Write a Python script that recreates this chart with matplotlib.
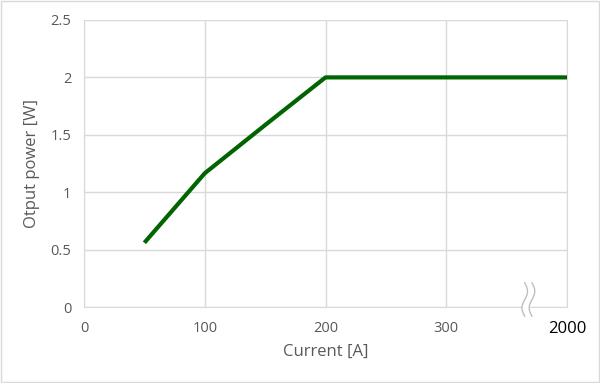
import matplotlib.pyplot as plt
import numpy as np

plt.rcParams['font.family'] = ['Open Sans', 'DejaVu Sans']

# x positions on the axis; last tick stands for 2000 A (broken axis)
current = [50, 100, 150, 200, 400]
power = [0.56, 1.165, 1.585, 2.0, 2.0]
xticks = [0, 100, 200, 300, 400]
xticklabels = ['0', '100', '200', '300', '2000']
yticks = [0, 0.5, 1, 1.5, 2, 2.5]
yticklabels = ['0', '0.5', '1', '1.5', '2', '2.5']

fig = plt.figure(figsize=(6, 3.83), dpi=100)
ax = fig.add_axes([0.14, 0.1984, 0.805, 0.7494])

ax.plot(current, power, color='#006400', lw=3, solid_capstyle='butt', zorder=3)

ax.set_xlim(0, 400)
ax.set_ylim(0, 2.5)
ax.set_xticks(xticks)
ax.set_xticklabels(xticklabels)
ax.set_yticks(yticks)
ax.set_yticklabels(yticklabels)
ax.grid(True, color='#d9d9d9', lw=1)
ax.set_axisbelow(True)
for s in ax.spines.values():
    s.set_color('#d9d9d9')
ax.spines['top'].set_visible(False)
ax.tick_params(length=0, labelsize=10.5, labelcolor='#595959')
ax.tick_params(axis='x', pad=10)
ax.tick_params(axis='y', pad=9)
lbls = ax.get_xticklabels()
lbls[-1].set_color('black')
lbls[-1].set_fontsize(12)

ax.set_xlabel('Current [A]', fontsize=12, color='#595959', labelpad=5)
ax.set_ylabel('Otput power [W]', fontsize=12, color='#595959', labelpad=8)

# axis break mark
t = np.linspace(0, 1, 60)
wave = 2.3 * np.sin(t * 2 * np.pi)
ys = 0.21 - 0.29 * t
ax.fill_betweenx(ys, 365 + wave, 371 + wave, color='white', clip_on=False, zorder=4)
for x0 in [365, 371]:
    ax.plot(x0 + wave, ys, color='#bfbfbf', lw=1, clip_on=False, zorder=5)

fig.patches.append(plt.Rectangle((0.002, 0.003), 0.996, 0.994, transform=fig.transFigure,
                                 fill=False, edgecolor='#d9d9d9', lw=1))

fig.savefig('out.png', dpi=100)
